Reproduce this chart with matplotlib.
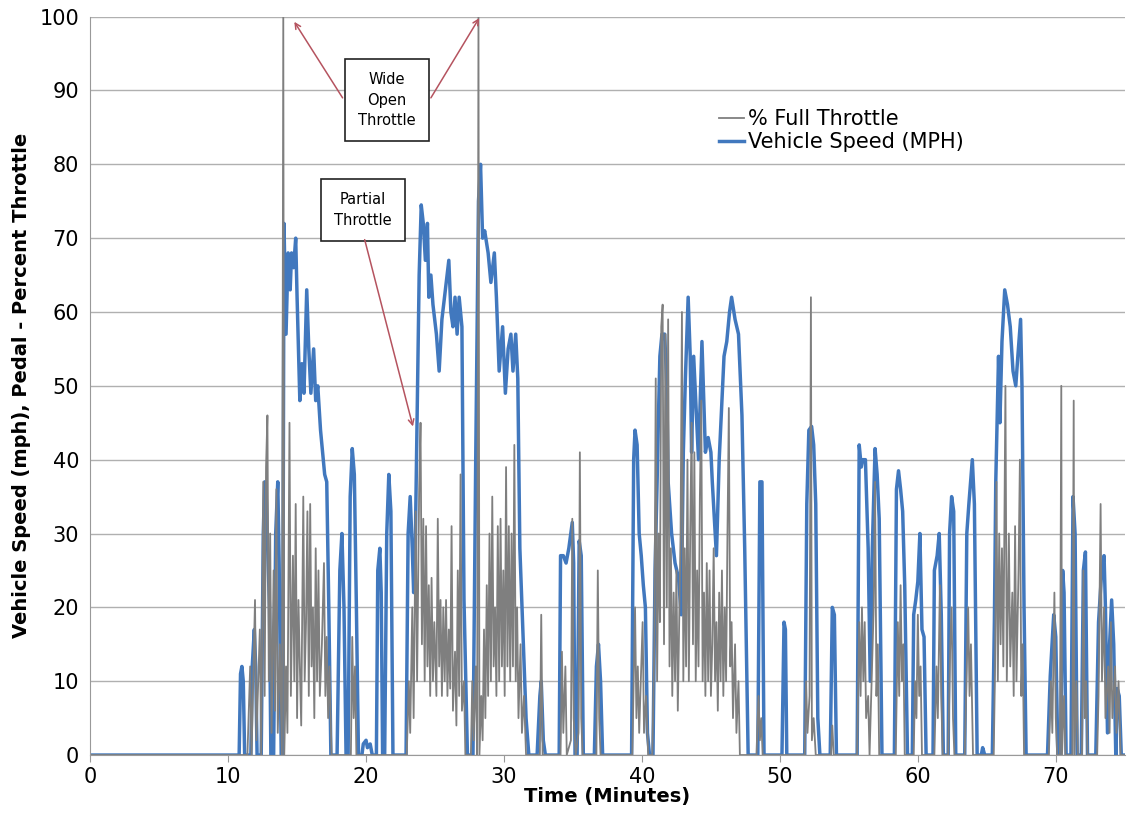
import matplotlib.pyplot as plt

# vehicle speed (mph)
speed_t = [0, 10.8, 10.9, 11.0, 11.1, 11.2,
           11.65, 11.75, 11.9, 12.0, 12.1,
           12.4, 12.55, 12.65, 12.75, 12.9, 13.0, 13.1,
           13.3, 13.45, 13.6, 13.7, 13.85,
           13.95, 14.05, 14.2, 14.35, 14.5, 14.6, 14.75, 14.9, 15.0, 15.2, 15.35, 15.5, 15.7, 15.85, 16.0, 16.2, 16.35, 16.5, 16.7, 16.9, 17.0, 17.15, 17.3, 17.45,
           17.9, 18.1, 18.25, 18.4, 18.55,
           18.7, 18.85, 19.0, 19.15, 19.3, 19.45,
           19.7, 19.8, 20.0, 20.1, 20.3, 20.45,
           20.75, 20.85, 21.0, 21.1, 21.2,
           21.35, 21.5, 21.65, 21.8, 21.95,
           22.9, 23.05, 23.2, 23.35, 23.45, 23.55,
           23.7, 23.85, 24.0, 24.15, 24.3, 24.45, 24.55, 24.7, 24.85, 25.1, 25.3, 25.5, 25.75, 26.0, 26.15, 26.3, 26.45, 26.6, 26.75, 26.95, 27.1, 27.35,
           27.75, 27.95, 28.15, 28.3, 28.45, 28.6, 28.85, 29.05, 29.3, 29.45, 29.65, 29.9, 30.1, 30.3, 30.5, 30.65, 30.85, 31.0, 31.15, 31.4, 31.6, 31.8,
           32.4, 32.6, 32.7, 32.85, 33.0,
           34.0, 34.1, 34.3, 34.5, 34.7, 34.95, 35.05, 35.15, 35.3, 35.45, 35.6, 35.75,
           36.55, 36.7, 36.85, 37.0, 37.15,
           39.25, 39.4, 39.5, 39.65, 39.8, 39.95, 40.1, 40.25, 40.4, 40.55,
           40.8, 40.95, 41.1, 41.2, 41.3, 41.45, 41.65, 41.8, 41.9, 42.15, 42.4, 42.65, 42.85, 43.0, 43.15, 43.35, 43.5, 43.6, 43.75, 43.9, 44.1, 44.35, 44.6, 44.8, 45.0, 45.1, 45.25, 45.4, 45.6, 45.8, 45.95, 46.15, 46.35, 46.5, 46.75, 47.0, 47.25, 47.45, 47.7,
           48.4, 48.55, 48.7, 48.85,
           50.15, 50.3, 50.4, 50.5,
           51.8, 51.95, 52.1, 52.3, 52.45, 52.6, 52.75, 52.9,
           53.65, 53.8, 53.95, 54.1,
           55.6, 55.75, 55.9, 56.0, 56.2, 56.4, 56.55, 56.7, 56.9, 57.05, 57.2, 57.4,
           58.3, 58.45, 58.6, 58.75, 58.9, 59.05, 59.25,
           59.6, 59.7, 59.85, 60.0, 60.15, 60.3, 60.45, 60.6,
           61.1, 61.2, 61.4, 61.55, 61.7, 61.85,
           62.2, 62.3, 62.45, 62.6, 62.75,
           63.4, 63.55, 63.7, 63.95, 64.1, 64.3,
           64.6, 64.7, 64.85,
           65.4, 65.55, 65.65, 65.85, 65.95, 66.1, 66.3, 66.5, 66.7, 66.9, 67.1, 67.25, 67.45, 67.55, 67.7, 67.85,
           69.4, 69.6, 69.85, 70.0, 70.15,
           70.35, 70.5, 70.6, 70.75,
           71.1, 71.25, 71.4, 71.55,
           71.85, 72.0, 72.15, 72.3,
           72.9, 73.1, 73.3, 73.5, 73.6, 73.75, 73.9, 74.05, 74.2, 74.35, 74.45, 74.6, 74.75, 75]
speed_v = [0, 0, 11, 12, 10, 0,
           0, 12, 17, 12, 0,
           0, 30, 37, 36, 26, 20, 0,
           0, 30, 37, 26, 0,
           0, 72, 57, 68, 63, 68, 66, 70, 62, 48, 53, 49, 63, 55, 49, 55, 48, 50, 44, 40, 38, 37, 20, 0,
           0, 25, 30, 20, 0,
           0, 35, 41.5, 38, 20, 0,
           0, 1.5, 2, 1, 1.5, 0,
           0, 25, 28, 22, 0,
           0, 30, 38, 33, 0,
           0, 30, 35, 28, 22, 26,
           45, 65, 74.5, 72, 67, 72, 62, 65, 61, 57, 52, 59, 63, 67, 60, 58, 62, 57, 62, 58, 21, 0,
           0, 40, 75, 80, 70, 71, 68, 64, 68, 62, 52, 58, 49, 55, 57, 52, 57, 51, 28, 15, 5, 0,
           0, 8, 10, 2, 0,
           0, 27, 27, 26, 28, 31.5, 26, 0, 0, 29, 27, 0,
           0, 12, 15, 10, 0,
           0, 40, 44, 42, 30, 27, 23, 20, 3, 0,
           0, 25, 37, 46, 54, 57, 57, 50, 37, 30, 26, 24, 19, 41, 51, 62, 54, 41, 54, 48, 40, 56, 41, 43, 41, 37, 32, 27, 40, 48, 54, 56, 60, 62, 59, 57, 46, 28, 0,
           0, 37, 37, 0,
           0, 18, 17, 0,
           0, 34, 44, 44.5, 42, 34, 5, 0,
           0, 20, 19, 0,
           0, 42, 39, 40, 40, 28, 10, 28, 41.5, 38, 32, 0,
           0, 36, 38.5, 36, 33, 23, 0,
           0, 19, 21, 23.5, 30, 17, 16, 0,
           0, 25, 27, 30, 19, 0,
           0, 30, 35, 33, 0,
           0, 30, 34, 40, 34, 0,
           0, 1, 0,
           0, 18, 37, 54, 45, 56, 63, 61, 58, 52, 50, 54, 59, 50, 20, 0,
           0, 10.7, 19, 16, 0,
           0, 25, 22, 0,
           0, 35, 30, 0,
           0, 25, 27.5, 0,
           0, 18, 24, 27, 20, 3, 15, 21, 15, 0, 9, 8, 0, 0]

# pedal position, % of full throttle
throttle_t = [0, 11.4,
              11.6, 11.7, 11.95, 12.05, 12.3, 12.4, 12.55, 12.65, 12.75, 12.85, 12.95, 13.05, 13.15, 13.3, 13.4, 13.5, 13.6, 13.75, 13.9,
              14.0, 14.07, 14.2, 14.3, 14.45, 14.55, 14.7, 14.8, 14.9, 15.0, 15.1, 15.2, 15.3, 15.45, 15.55, 15.65, 15.75, 15.85, 15.95, 16.05, 16.15, 16.25, 16.35, 16.45, 16.55, 16.65, 16.8, 16.95, 17.05, 17.15, 17.25, 17.35, 17.5,
              18.9, 19.0, 19.1, 19.2, 19.3,
              22.95, 23.1, 23.2, 23.35, 23.45, 23.6, 23.7, 23.85, 23.95, 24.05, 24.15, 24.25, 24.35, 24.45, 24.55, 24.65, 24.75, 24.85, 24.95, 25.1, 25.2, 25.3, 25.4, 25.5, 25.6, 25.7, 25.8, 25.9, 26.0, 26.1, 26.2, 26.3, 26.45, 26.55, 26.65, 26.75, 26.85, 26.95, 27.1, 27.2,
              27.6, 27.7, 27.8, 27.95, 28.05,
              28.15, 28.22, 28.35, 28.45, 28.55, 28.65, 28.75, 28.85, 28.95, 29.05, 29.15, 29.25, 29.35, 29.45, 29.55, 29.65, 29.75, 29.85, 29.95, 30.05, 30.15, 30.25, 30.35, 30.45, 30.55, 30.65, 30.75, 30.85, 30.95, 31.05, 31.2, 31.3, 31.45, 31.6,
              32.6, 32.7, 32.8,
              34.1, 34.2, 34.3, 34.45, 34.55, 34.85, 34.95, 35.05, 35.2, 35.4, 35.5, 35.6, 35.7,
              36.7, 36.8, 36.9, 37.0,
              39.3, 39.4, 39.5, 39.6, 39.7, 39.8, 39.95, 40.05, 40.15, 40.3, 40.45,
              40.75, 40.9, 41.0, 41.1, 41.2, 41.3, 41.4, 41.5, 41.6, 41.7, 41.8, 41.9, 42.0, 42.1, 42.2, 42.3, 42.4, 42.5, 42.6, 42.7, 42.8, 42.9, 43.0, 43.1, 43.2, 43.3, 43.4, 43.5, 43.6, 43.7, 43.8, 43.9, 44.0, 44.1, 44.2, 44.3, 44.4, 44.5, 44.6, 44.7, 44.8, 44.9, 45.0, 45.1, 45.2, 45.3, 45.4, 45.5, 45.6, 45.7, 45.8, 45.9, 46.0, 46.1, 46.2, 46.3, 46.4, 46.5, 46.6, 46.75, 46.85, 47.0, 47.1,
              48.3, 48.45, 48.55, 48.65, 48.75,
              51.8, 51.9, 52.0, 52.15, 52.25, 52.32, 52.45, 52.6,
              53.7, 53.8, 53.9,
              55.6, 55.75, 55.85, 55.95, 56.05, 56.15, 56.25, 56.4, 56.5, 56.65, 56.8, 56.9, 57.0, 57.1, 57.2,
              58.4, 58.55, 58.65, 58.75, 58.85, 58.95, 59.05,
              59.7, 59.8, 59.9, 60.0, 60.1, 60.2, 60.3,
              61.2, 61.35, 61.45, 61.6, 61.7, 61.8,
              62.2, 62.35, 62.45, 62.55, 62.65,
              63.4, 63.55, 63.65, 63.75, 63.85, 64.0,
              65.5, 65.6, 65.7, 65.8, 65.9, 66.0, 66.1, 66.2, 66.35, 66.45, 66.6, 66.7, 66.85, 66.95, 67.05, 67.15, 67.3, 67.4, 67.5, 67.6, 67.7,
              69.5, 69.65, 69.75, 69.9, 70.0, 70.1, 70.3, 70.4, 70.45, 70.6, 70.7,
              71.2, 71.3, 71.35, 71.5, 71.6,
              71.9, 72.0, 72.1, 72.2, 72.3,
              73.0, 73.1, 73.25, 73.35, 73.5, 73.6, 73.8, 73.9, 74.0, 74.1, 74.3, 74.4, 74.55, 74.7, 75]
throttle_v = [0, 0,
              12, 0, 21, 2, 17, 0, 37, 8, 39, 46, 10, 30, 3, 25, 6, 36, 3, 15, 0,
              100, 0, 12, 3, 45, 8, 27, 10, 34, 5, 21, 12, 4, 35, 10, 18, 33, 8, 34, 12, 20, 5, 28, 10, 25, 8, 15, 26, 8, 16, 5, 12, 0,
              0, 16, 5, 12, 0,
              0, 10, 3, 20, 5, 33, 10, 36, 45, 15, 32, 10, 31, 12, 23, 8, 24, 10, 18, 8, 32, 12, 21, 8, 20, 10, 21, 8, 17, 9, 31, 6, 14, 4, 25, 8, 38, 6, 10, 0,
              0, 10, 2, 12, 0,
              100, 0, 8, 2, 17, 5, 23, 8, 30, 10, 35, 12, 20, 8, 31, 10, 32, 12, 25, 8, 39, 12, 31, 10, 30, 12, 42, 10, 20, 5, 15, 3, 8, 0,
              0, 19, 0,
              0, 14, 3, 12, 0, 2, 32, 5, 0, 3, 41, 5, 0,
              0, 25, 5, 0,
              0, 10, 20, 5, 12, 3, 12, 18, 3, 8, 0,
              0, 15, 51, 10, 30, 18, 58, 61, 15, 57, 20, 59, 12, 28, 8, 22, 10, 25, 6, 18, 30, 60, 10, 28, 12, 40, 10, 30, 45, 15, 41, 10, 25, 12, 35, 48, 10, 22, 8, 26, 10, 25, 8, 15, 28, 10, 18, 6, 22, 10, 25, 8, 20, 10, 30, 47, 12, 18, 5, 15, 3, 10, 0,
              0, 8, 2, 5, 0,
              0, 10, 3, 8, 62, 2, 5, 0,
              0, 4, 0,
              0, 18, 8, 20, 10, 18, 5, 8, 0, 10, 20, 37, 8, 15, 0,
              0, 18, 8, 23, 10, 15, 0,
              0, 10, 5, 19, 8, 12, 0,
              0, 12, 5, 23, 8, 0,
              0, 15, 20, 5, 0,
              0, 12, 20, 8, 15, 0,
              0, 12, 37, 10, 30, 15, 28, 12, 50, 10, 30, 12, 22, 8, 31, 10, 25, 40, 8, 15, 0,
              0, 10, 3, 22, 5, 0, 0, 50, 0, 8, 0,
              0, 48, 0, 10, 0,
              0, 25, 5, 10, 0,
              0, 8, 34, 10, 20, 5, 12, 3, 18, 5, 12, 3, 10, 0, 0]

x_ticks = [0, 10, 20, 30, 40, 50, 60, 70]
y_ticks = [0, 10, 20, 30, 40, 50, 60, 70, 80, 90, 100]

fig = plt.figure(figsize=(11.27, 8.32), dpi=100)
ax = fig.add_axes([0.08, 0.0925, 0.918, 0.8875])

speed_line, = ax.plot(speed_t, speed_v, color='#4178be', linewidth=2.5,
                      solid_joinstyle='round', label='Vehicle Speed (MPH)')
thr_line, = ax.plot(throttle_t, throttle_v, color='#7f7f7f', linewidth=1.3,
                    label='% Full Throttle')

ax.set_xlim(0, 75)
ax.set_ylim(0, 100)
ax.set_xticks(x_ticks)
ax.set_yticks(y_ticks)
ax.tick_params(axis='both', labelsize=15)
ax.tick_params(axis='y', length=0, pad=8)
ax.tick_params(axis='x', direction='out', length=5, color='#999999')
ax.yaxis.grid(True, color='#b0b0b0', linewidth=1)
ax.set_axisbelow(True)
for side in ['top', 'right']:
    ax.spines[side].set_visible(False)
for side in ['left', 'bottom']:
    ax.spines[side].set_color('#999999')

ax.set_xlabel('Time (Minutes)', fontsize=14, fontweight='bold', labelpad=0)
ax.set_ylabel('Vehicle Speed (mph), Pedal - Percent Throttle', fontsize=14,
              fontweight='bold', labelpad=6)

ax.legend(handles=[thr_line, speed_line], loc='upper left',
          bbox_to_anchor=(0.59, 0.9), frameon=False, fontsize=15,
          handlelength=1.2, handletextpad=0.2, labelspacing=0.15)

box = dict(boxstyle='square,pad=0.9', facecolor='white', edgecolor='#222222', linewidth=1.2)
arrow = dict(arrowstyle='->', color='#b5535f', linewidth=1.1, shrinkA=0, shrinkB=0)

ax.text(21.5, 88.7, 'Wide\nOpen\nThrottle', ha='center', va='center',
        fontsize=10.5, linespacing=1.45, bbox=box)
ax.annotate('', xy=(14.8, 99.3), xytext=(18.3, 89.0), arrowprops=arrow)
ax.annotate('', xy=(28.2, 99.8), xytext=(24.7, 89.0), arrowprops=arrow)

ax.text(19.75, 73.8, 'Partial\nThrottle', ha='center', va='center',
        fontsize=10.5, linespacing=1.45, bbox=box)
ax.annotate('', xy=(23.4, 44.5), xytext=(19.9, 69.8), arrowprops=arrow)

fig.savefig('out.png', dpi=100)
